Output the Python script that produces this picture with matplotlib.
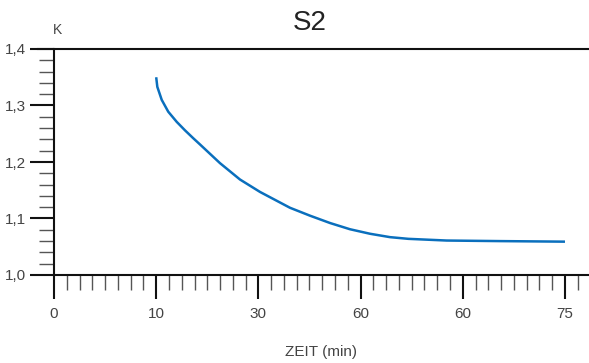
import numpy as np
import matplotlib.pyplot as plt
from matplotlib.ticker import MultipleLocator

# x-Achse: gleichmaessig verteilte Teilstriche mit eigenen Beschriftungen
pos_ticks = [0, 1, 2, 3, 4, 5]
lab_ticks = ["0", "10", "30", "60", "60", "75"]

# Kurve K ueber Zeit (Position auf der Achse)
x_pos = [1.0, 1.011, 1.054, 1.118, 1.201, 1.282, 1.363, 1.429, 1.624, 1.820,
         2.016, 2.309, 2.505, 2.701, 2.896, 3.092, 3.288, 3.467, 3.842, 4.364, 5.0]
k_val = [1.350, 1.333, 1.310, 1.289, 1.271, 1.256, 1.242, 1.231, 1.198, 1.169,
         1.147, 1.119, 1.105, 1.092, 1.081, 1.073, 1.067, 1.064, 1.061, 1.060, 1.059]

yticks = [1.0, 1.1, 1.2, 1.3, 1.4]
ylabs = ["1,0", "1,1", "1,2", "1,3", "1,4"]

grau = "#444444"
plt.rcParams['font.family'] = ['Liberation Sans Narrow', 'Liberation Sans', 'DejaVu Sans']

fig = plt.figure(figsize=(5.89, 3.63), dpi=100)
ax = fig.add_axes([54/589, 1-275/363, 1-54/589, 226/363])

ax.plot(x_pos, k_val, color="#0a6fbd", lw=1.8, solid_capstyle="butt",
        solid_joinstyle="round")

ax.set_xlim(0, 5.235)
ax.set_ylim(1.0, 1.4)
ax.set_xticks(pos_ticks)
ax.set_xticklabels(lab_ticks)
ax.xaxis.set_minor_locator(MultipleLocator(1/8))
ax.set_yticks(yticks)
ax.set_yticklabels(ylabs)
ax.yaxis.set_minor_locator(MultipleLocator(0.02))

ax.spines['right'].set_visible(False)
for s in ['left', 'bottom', 'top']:
    ax.spines[s].set_linewidth(1.5)
    ax.spines[s].set_color("#111111")
ax.spines['top'].set_bounds(-0.16, 5.235)
ax.spines['top'].set_clip_on(False)

ax.tick_params(axis='both', which='major', length=17, width=1.5, color="#111111",
               labelsize=11, labelcolor=grau, direction='out', pad=6)
ax.tick_params(axis='both', which='minor', length=11, width=1.0, color="#555555",
               direction='out')
ax.tick_params(axis='y', which='major', pad=3)

fig.text(310/589, 1-23/363, "S2", ha='center', va='center', fontsize=20, color="#222222")
fig.text(57/589, 1-30/363, "K", ha='center', va='center', fontsize=10, color=grau)
fig.text(321/589, 1-352/363, "ZEIT (min)", ha='center', va='center', fontsize=11, color=grau)

plt.savefig("out.png", dpi=100)
